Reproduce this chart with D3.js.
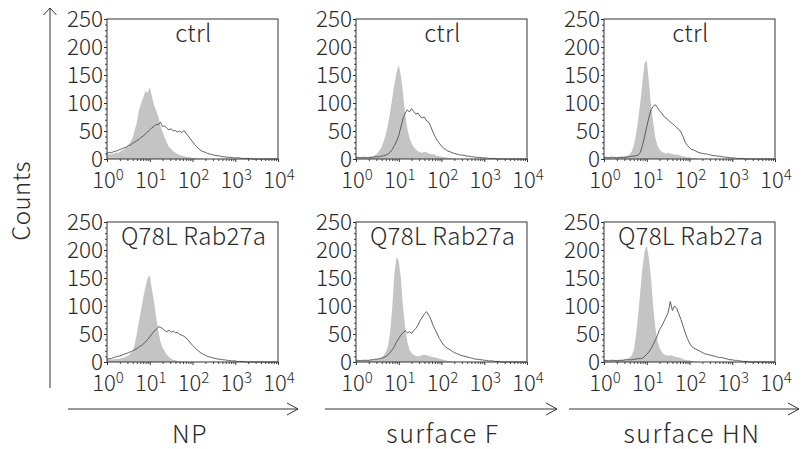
<!DOCTYPE html>
<html>
<head>
<meta charset="utf-8">
<script src="https://cdn.jsdelivr.net/npm/d3@7"></script>
<style>
  html, body { margin: 0; padding: 0; background: #fff; }
  svg { display: block; }
</style>
</head>
<body>
<script>
// ---------- DATA ----------
// log10 fluorescence bins (0.05 decade steps from 10^0 to 10^4)
const logBins = d3.range(81).map(i => +(i * 0.05).toFixed(2));

const columnLabels = ["NP", "surface F", "surface HN"];
const rowLabels = ["ctrl", "Q78L Rab27a"];
const yTickValues = [0, 50, 100, 150, 200, 250];
const xTickExponents = [0, 1, 2, 3, 4];

// counts per bin: filled grey = control staining, line = specific staining
const npCtrlFill = [8,9,8,10,11,11,13,15,17,21,25,31,38,52,66,88,100,110,122,118,128,112,96,86,76,60,48,38,29,22,18,14,11,9,7,6,5,4,3,3,2,2,1,1,1,
  0,0,0,0,0,0,0,0,0,0,0,0,0,0,0,0,0,0,0,0,0,0,0,0,0,0,0,0,0,0,0,0,0,0,0,0];
const npCtrlLine = [10,12,11,13,14,15,17,18,20,21,24,25,28,30,33,35,39,41,45,48,52,56,58,62,61,66,58,59,55,52,54,50,51,48,50,47,51,46,41,36,31,26,22,18,15,13,12,10,9,8,7,6,6,5,4,4,3,3,3,2,2,2,2,1,1,1,1,1,
  0,0,0,0,0,0,0,0,0,0,0,0,0];
const fCtrlFill = [2,2,3,2,3,3,3,4,5,7,10,15,22,32,45,62,85,110,135,155,168,148,118,80,55,38,28,21,17,14,12,11,13,12,10,9,9,7,6,5,4,3,3,2,2,1,1,
  0,0,0,0,0,0,0,0,0,0,0,0,0,0,0,0,0,0,0,0,0,0,0,0,0,0,0,0,0,0,0,0,0,0];
const fCtrlLine = [3,3,2,3,3,2,3,3,3,4,4,4,5,6,7,9,12,17,24,32,42,57,72,82,88,84,90,85,80,82,76,74,75,68,66,58,48,40,33,28,23,19,17,14,13,11,10,9,8,7,7,6,5,5,4,4,3,3,3,2,2,2,1,1,1,1,
  0,0,0,0,0,0,0,0,0,0,0,0,0,0,0];
const hnCtrlFill = [3,2,3,3,2,3,3,3,4,4,5,6,8,14,26,44,72,102,138,172,176,138,96,66,38,24,17,13,11,10,11,10,9,8,8,7,6,5,4,3,3,2,2,1,1,
  0,0,0,0,0,0,0,0,0,0,0,0,0,0,0,0,0,0,0,0,0,0,0,0,0,0,0,0,0,0,0,0,0,0,0,0];
const hnCtrlLine = [3,3,2,3,3,3,2,3,3,3,3,4,4,5,5,6,7,12,24,40,58,74,88,94,97,92,86,82,76,73,70,66,63,60,56,53,48,40,30,24,20,17,16,14,12,11,10,9,9,8,7,6,6,5,5,4,4,3,3,2,2,2,1,1,1,1,
  0,0,0,0,0,0,0,0,0,0,0,0,0,0,0];
const npQ78Fill = [5,5,4,5,5,6,6,7,8,10,12,15,19,32,52,74,94,116,134,150,155,130,108,80,56,36,26,19,13,9,6,4,3,2,2,1,1,
  0,0,0,0,0,0,0,0,0,0,0,0,0,0,0,0,0,0,0,0,0,0,0,0,0,0,0,0,0,0,0,0,0,0,0,0,0,0,0,0,0,0,0,0];
const npQ78Line = [5,6,6,8,9,10,11,12,14,15,17,18,20,22,24,27,29,32,36,40,45,50,55,58,63,62,60,56,54,57,53,55,52,53,49,48,46,43,39,34,30,26,22,19,16,14,12,10,9,8,7,6,5,5,4,4,3,3,2,2,2,1,1,1,1,
  0,0,0,0,0,0,0,0,0,0,0,0,0,0,0,0];
const fQ78Fill = [2,2,2,3,2,3,3,3,3,4,5,6,8,12,18,28,55,100,160,188,180,150,98,62,36,22,16,13,11,10,11,12,13,12,11,10,9,8,7,6,5,4,3,2,2,1,1,
  0,0,0,0,0,0,0,0,0,0,0,0,0,0,0,0,0,0,0,0,0,0,0,0,0,0,0,0,0,0,0,0,0,0];
const fQ78Line = [3,3,2,3,3,3,3,4,4,5,5,6,7,8,10,13,17,22,28,36,42,48,52,56,52,54,51,56,60,66,74,80,86,90,84,76,66,58,50,42,36,30,27,24,22,19,17,15,14,12,11,10,9,8,7,6,5,5,4,4,3,3,2,2,2,1,1,1,
  0,0,0,0,0,0,0,0,0,0,0,0,0];
const hnQ78Fill = [3,3,2,3,3,3,4,3,4,4,5,6,8,12,22,48,85,128,168,198,208,185,150,100,62,38,25,18,14,12,11,12,11,10,9,8,7,5,4,3,3,2,1,1,
  0,0,0,0,0,0,0,0,0,0,0,0,0,0,0,0,0,0,0,0,0,0,0,0,0,0,0,0,0,0,0,0,0,0,0,0,0];
const hnQ78Line = [3,3,2,3,3,3,2,3,3,3,4,4,4,4,5,5,6,6,7,10,14,18,24,31,39,47,58,64,72,80,88,108,92,100,96,86,76,64,52,42,34,28,25,23,21,19,17,15,14,13,12,11,10,9,8,8,7,6,5,4,4,3,3,2,2,1,1,1,
  0,0,0,0,0,0,0,0,0,0,0,0,0];

const panelData = [
  [ {fill: npCtrlFill, line: npCtrlLine}, {fill: fCtrlFill, line: fCtrlLine}, {fill: hnCtrlFill, line: hnCtrlLine} ],
  [ {fill: npQ78Fill, line: npQ78Line}, {fill: fQ78Fill, line: fQ78Line}, {fill: hnQ78Fill, line: hnQ78Line} ]
];

// ---------- LAYOUT ----------
const W = 803, H = 449;
const FONT = "'Noto Sans CJK JP','Noto Sans',sans-serif";
const WEIGHT = 300;
const TXT = "#2a2a2a";
const panelX = [107, 356, 604];
const panelY = [19, 222];
const PW = 171, PH = 140;

const svg = d3.select("body").append("svg").attr("width", W).attr("height", H)
  .style("font-family", FONT).style("font-weight", WEIGHT);

const x = d3.scaleLog().domain([1, 1e4]).range([0, PW]);
const y = d3.scaleLinear().domain([0, 250]).range([PH, 0]);

const area = d3.area().x(d => x(d[0])).y0(PH).y1(d => y(d[1]));
const line = d3.line().x(d => x(d[0])).y(d => y(d[1]));

const minorX = [];
for (let k = 0; k < 4; k++) for (let m = 2; m <= 9; m++) minorX.push(m * Math.pow(10, k));

panelData.forEach((row, r) => {
  row.forEach((pd, c) => {
    const g = svg.append("g").attr("transform", `translate(${panelX[c]},${panelY[r]})`);
    const fillPts = logBins.map((b, i) => [Math.pow(10, b), pd.fill[i]]);
    const linePts = logBins.map((b, i) => [Math.pow(10, b), pd.line[i]]);

    g.append("path").datum(fillPts).attr("d", area).attr("fill", "#c4c4c4");
    g.append("path").datum(linePts).attr("d", line).attr("fill", "none")
      .attr("stroke", "#505050").attr("stroke-width", 0.9);

    // y axis: minor then major
    const ym = g.append("g").call(d3.axisLeft(y).tickValues(d3.range(0, 251, 10)).tickSize(2).tickFormat(""));
    ym.select(".domain").remove();
    ym.selectAll("line").attr("stroke", "#444");
    const ya = g.append("g").call(d3.axisLeft(y).tickValues(yTickValues).tickSize(3).tickPadding(1));
    ya.select(".domain").remove();
    ya.selectAll("line").attr("stroke", "#333");
    ya.selectAll("text").attr("font-size", 22.5).attr("fill", TXT)
      .attr("font-family", FONT).attr("font-weight", WEIGHT);

    // x axis: minor + major ticks, custom labels
    const xm = g.append("g").attr("transform", `translate(0,${PH})`)
      .call(d3.axisBottom(x).tickValues(minorX).tickSize(2).tickFormat(""));
    xm.select(".domain").remove();
    xm.selectAll("line").attr("stroke", "#444");
    const xa = g.append("g").attr("transform", `translate(0,${PH})`)
      .call(d3.axisBottom(x).tickValues(xTickExponents.map(e => Math.pow(10, e))).tickSize(3).tickFormat(""));
    xa.select(".domain").remove();
    xa.selectAll("line").attr("stroke", "#333");
    xTickExponents.forEach(e => {
      const t = g.append("text").attr("x", x(Math.pow(10, e)) + 1).attr("y", PH + 29)
        .attr("text-anchor", "middle").attr("fill", TXT).attr("font-size", 22);
      t.append("tspan").text("10");
      t.append("tspan").attr("dy", -8).attr("font-size", 15).text(String(e));
    });

    // frame
    g.append("rect").attr("x", 0).attr("y", 0).attr("width", PW).attr("height", PH)
      .attr("fill", "none").attr("stroke", "#333").attr("stroke-width", 1);

    // condition label
    g.append("text").attr("x", PW / 2 + 1).attr("y", 23).attr("text-anchor", "middle")
      .attr("font-size", 24).attr("letter-spacing", 0.3).attr("fill", TXT).text(rowLabels[r]);
  });
});

// ---------- AXIS ARROWS & LABELS ----------
const arrowStroke = "#333";
// vertical Counts arrow
svg.append("line").attr("x1", 50).attr("y1", 388).attr("x2", 50).attr("y2", 8)
  .attr("stroke", arrowStroke).attr("stroke-width", 1);
svg.append("path").attr("d", "M43.5,15 L50,8 L56.5,15").attr("fill", "none")
  .attr("stroke", arrowStroke).attr("stroke-width", 1);
svg.append("text").attr("transform", "translate(30,201) rotate(-90)")
  .attr("text-anchor", "middle").attr("font-size", 24).attr("letter-spacing", 0.5)
  .attr("fill", TXT).text("Counts");

const arrowSpans = [[68, 298], [325, 557], [569, 799]];
const labelCenters = [190, 443, 692];
arrowSpans.forEach((s, i) => {
  svg.append("line").attr("x1", s[0]).attr("y1", 409).attr("x2", s[1]).attr("y2", 409)
    .attr("stroke", arrowStroke).attr("stroke-width", 1);
  svg.append("path").attr("d", `M${s[1] - 11},403 L${s[1]},409 L${s[1] - 11},415`).attr("fill", "none")
    .attr("stroke", arrowStroke).attr("stroke-width", 1);
  svg.append("text").attr("x", labelCenters[i]).attr("y", 443).attr("text-anchor", "middle")
    .attr("font-size", 25).attr("letter-spacing", 1.5).attr("fill", TXT).text(columnLabels[i]);
});
</script>
</body>
</html>
